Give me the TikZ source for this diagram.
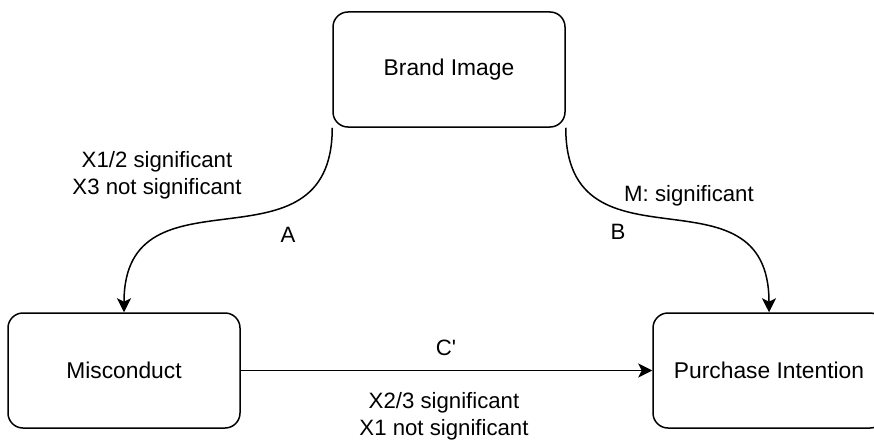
\documentclass[tikz,border=0pt]{standalone}
\usepackage{fontspec}
\setmainfont{Liberation Sans}
\newfontfamily\plainq{Liberation Sans}[Ligatures=TeXOff]
\usetikzlibrary{arrows.meta}
\begin{document}
\begin{tikzpicture}[x=1pt,y=-1pt,
  box/.style={draw, line width=1.5pt, rounded corners=15pt, minimum width=232pt, minimum height=115pt, inner sep=0pt, font=\fontsize{22.8}{26}\selectfont},
  lbl/.style={font=\fontsize{22.2}{27}\selectfont, align=center, inner sep=0pt},
  conn/.style={line width=1.5pt, -{Stealth[length=14pt,width=14pt,inset=3.5pt]}}]
\useasboundingbox (0,0) rectangle (874,441);
\node[box] (bi) at (449,69.5) {Brand Image};
\node[box] (mc) at (124,370.5) {Misconduct};
\node[box] (pi) at (769,370.5) {Purchase Intention};
\draw[conn] (bi.south west) .. controls +(0,153) and +(0,-153) .. (mc.north);
\draw[conn] (bi.south east) .. controls +(0,153) and +(0,-153) .. (pi.north);
\draw[conn] (mc.east) -- (pi.west);
\node[lbl] (la) at (157,175) {X1/2 significant\\X3 not significant};
\node[lbl] (a) at (288,235) {A};
\node[lbl] (lb) at (689,196) {M: significant};
\node[lbl] (b) at (618,232) {B};
\node[lbl] (c) at (446,348) {\plainq C'};
\node[lbl] (lc) at (444,416) {X2/3 significant\\X1 not significant};
\end{tikzpicture}
\end{document}
